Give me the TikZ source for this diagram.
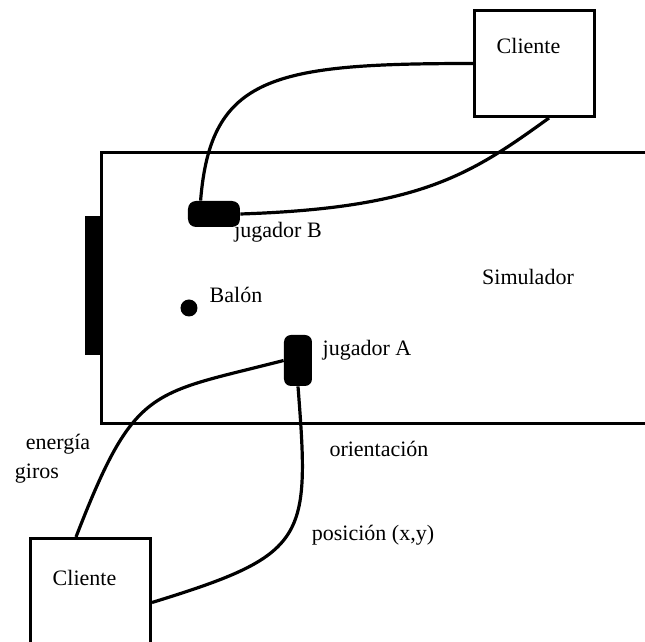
\documentclass[tikz,border=0pt]{standalone}
\usepackage{fontspec}
\setmainfont{Liberation Serif}
\usetikzlibrary{positioning}
\tikzset{
  campo/.style  ={draw, line width=1.5pt},
  cliente/.style={draw, line width=1.5pt, minimum width=60pt, minimum height=53pt, inner sep=0pt},
  jugador/.style={fill=black, rounded corners=4pt, inner sep=0pt},
  cable/.style  ={line width=1.6pt},
  etq/.style    ={font=\fontsize{11}{13}\selectfont, inner sep=1pt}
}

\begin{document}
\begin{tikzpicture}[x=0.5pt, y=-0.5pt]
\useasboundingbox (0,0) rectangle (645,642);
\clip (0,0) rectangle (645,642);

% campo y porteria
\draw[campo] (720,153) -| (102,424) -- (720,424);
\node[fill=black, inner sep=0pt, minimum width=9pt, minimum height=69.5pt, anchor=north west] (porteria) at (85,216) {};

% jugadores y balon
\node[jugador, minimum width=26pt, minimum height=13pt] (jugB) at (214,214) {};
\node[jugador, rounded corners=3.5pt, minimum width=14pt, minimum height=25.5pt] (jugA) at (298,360.5) {};
\node[circle, fill=black, inner sep=0pt, minimum size=8.5pt] (balon) at (189,308) {};

% clientes
\node[cliente] (cliB) at (534.5,63.5) {};
\node[cliente] (cliA) at (90.5,591.5) {};
\node[etq] at ([shift={(-6,-18)}]cliB.center) {Cliente};
\node[etq] at ([shift={(-6,-14)}]cliA.center) {Cliente};

% conexiones
\draw[cable] (cliB.west) .. controls +(-200,0) and +(10,-125) .. ([shift={(13,0)}]jugB.north west);
\draw[cable] ([shift={(76,0)}]cliB.south west) .. controls +(-79,57) and +(180,-6) .. (jugB.east);
\draw[cable] ([shift={(47,0)}]cliA.north west) .. controls +(59,-152) and +(-134,34.5) .. (jugA.west);
\draw[cable] (jugA.south) .. controls +(12,154) and +(156,-48) .. ([shift={(0,11)}]cliA.east);

% textos
\node[etq] at (528,277) {Simulador};
\node[etq] at (236,295) {Balón};
\node[etq] at (278,232) {jugador B};
\node[etq] at (367,350) {jugador A};
\node[etq] at (58,444) {energía};
\node[etq] at (37,474) {giros};
\node[etq] at (379,449) {orientación};
\node[etq] at (373,535) {posición (x,y)};
\end{tikzpicture}
\end{document}
